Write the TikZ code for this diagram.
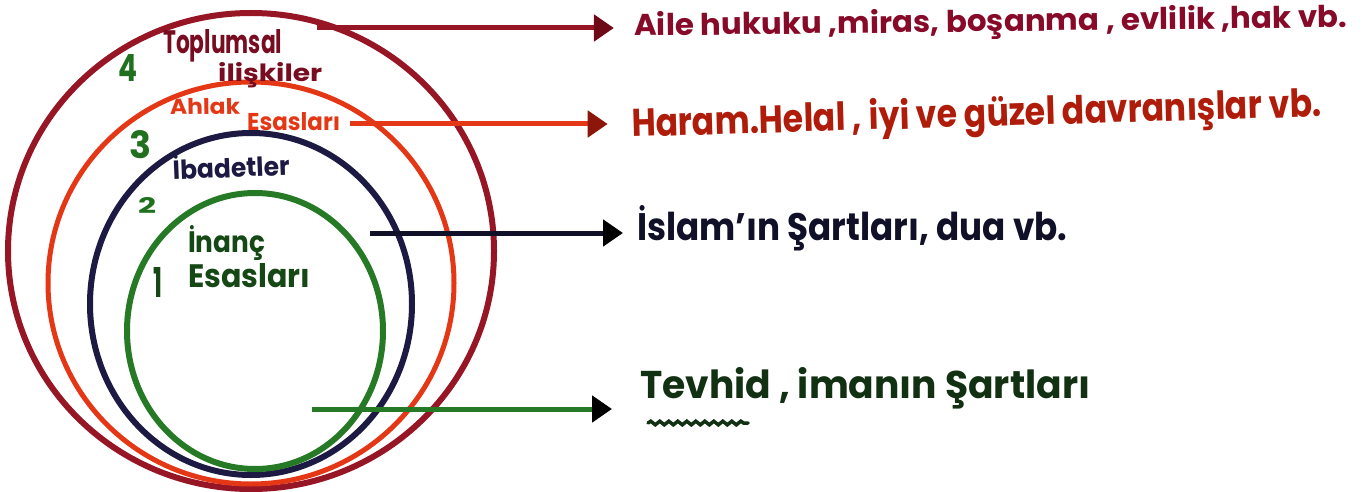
\documentclass[tikz,border=0pt]{standalone}
\usepackage{fontspec}
\setmainfont{Poppins}
\usetikzlibrary{arrows.meta,decorations.pathmorphing}
\definecolor{cOuter}{RGB}{150,22,38}
\definecolor{cRed}{RGB}{228,55,22}
\definecolor{cNavy}{RGB}{28,26,66}
\definecolor{cGreen}{RGB}{38,122,38}
\definecolor{tOne}{RGB}{135,10,40}
\definecolor{tTwo}{RGB}{175,28,10}
\definecolor{tThree}{RGB}{16,16,40}
\definecolor{tFour}{RGB}{18,48,18}
\definecolor{lOuter}{RGB}{120,12,32}
\definecolor{lInanc}{RGB}{22,72,22}
\definecolor{numGreen}{RGB}{32,112,32}
\definecolor{headOne}{RGB}{110,10,22}
\definecolor{headTwo}{RGB}{140,22,10}
\newcommand\fitbox[3]{\resizebox{#1pt}{#2pt}{\bfseries #3}}
\tikzset{
  txt/.style={inner sep=0pt, anchor=base west},
  ring/.style={line width=#1},
  arrline/.style={line width=5pt,
     -{Triangle[length=20pt,width=26pt,color=#1]}},
  numlbl/.style={inner sep=0pt, text=numGreen}
}
\begin{document}
\begin{tikzpicture}[x=1pt,y=1pt]
\useasboundingbox (0,0) rectangle (1371,-492);
\fill[white] (0,0) rectangle (1371,-492);
% rings
\draw[ring=6pt, cOuter] (251,-251) ellipse [x radius=243pt, y radius=238pt];
\draw[ring=5pt, cRed] (251,-283) ellipse [x radius=203pt, y radius=201pt];
\draw[ring=6pt, cNavy] (251,-304) ellipse [x radius=161pt, y radius=171pt];
\draw[ring=6pt, cGreen] (255,-331) ellipse [x radius=128pt, y radius=138pt];
% labels inside rings
\node[txt, text=lOuter] (toplumsal) at (163,-54) {\fitbox{119}{24}{Toplumsal}};
\node[txt, text=lOuter] (iliskiler) at (218,-82) {\fitbox{104}{19}{ilişkiler}};
\node[txt, text=cRed, rotate=1] (ahlak) at (170,-115) {\fitbox{70}{16}{Ahlak}};
\node[txt, text=cRed] (esaslariA) at (247,-131) {\fitbox{93}{18}{Esasları}};
\node[txt, text=cNavy, rotate=2.4] (ibadetler) at (173,-180) {\fitbox{117}{24}{İbadetler}};
\node[txt, text=lInanc] (inanc) at (188,-252) {\fitbox{77}{27}{İnanç}};
\node[txt, text=lInanc] (esaslariI) at (188,-287) {\fitbox{122}{24}{Esasları}};
% numbers
\node[numlbl] (n4) at (128,-68) {\resizebox{19pt}{27pt}{\bfseries 4}};
\node[numlbl] (n3) at (140,-145) {\resizebox{22pt}{28pt}{\bfseries 3}};
\node[numlbl] (n2) at (147,-205) {\resizebox{18pt}{16pt}{\bfseries 2}};
\node[numlbl, text=lInanc] (n1) at (158,-282) {\resizebox{9pt}{30pt}{\bfseries 1}};
% right texts
\node[txt, text=tOne, rotate=0.7] (t1) at (634,-36) {\fitbox{713}{24}{Aile hukuku ,miras, boşanma , evlilik ,hak vb.}};
\node[txt, text=tTwo, rotate=1.7] (t2) at (632,-137) {\fitbox{690}{31}{Haram.Helal , iyi ve güzel davranışlar vb.}};
\node[txt, text=tThree] (t3) at (637,-240) {\fitbox{430}{35}{İslam'ın Şartları, dua vb.}};
\node[txt, text=tFour] (t4) at (640,-398) {\fitbox{450}{31}{Tevhid , imanın Şartları}};
% arrow starts
\coordinate (a1) at (317,-28);
\coordinate (a2) at (350,-124);
\coordinate (a3) at (370,-233);
\coordinate (a4) at (312,-409);
\draw[arrline=headOne, cOuter, shorten >=20pt] (a1) -- (a1 -| t1.west);
\draw[arrline=headTwo, cRed, shorten >=24pt] (a2) -- (a2 -| t2.west);
\draw[arrline=black, tThree, shorten >=14pt] (a3) -- (a3 -| t3.west);
\draw[arrline=black, cGreen, shorten >=28pt] (a4) -- (a4 -| t4.west);
% wavy underline under Tevhid
\coordinate (w1) at (648,-423);
\coordinate (w2) at (748,-423);
\draw[tFour, line width=3.5pt, line cap=round, decorate,
  decoration={snake, amplitude=1.8pt, segment length=9pt}] (w1) -- (w2);
\end{tikzpicture}
\end{document}
